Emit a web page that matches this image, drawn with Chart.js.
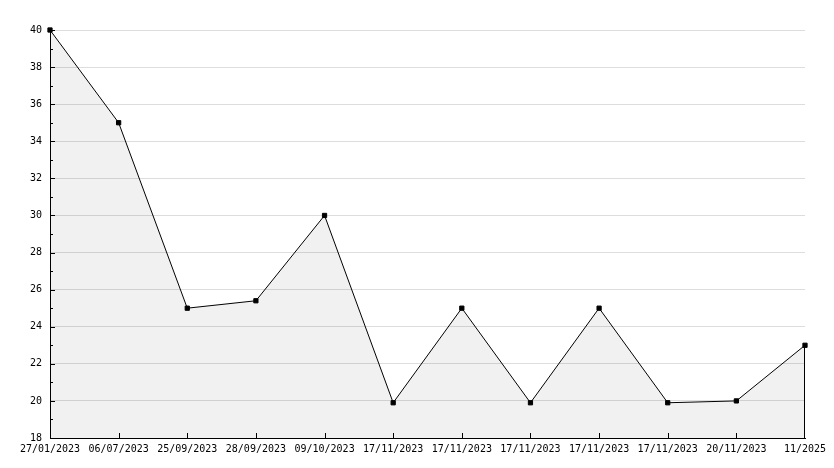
<!DOCTYPE html>
<html>
<head>
<meta charset="utf-8">
<script src="https://cdn.jsdelivr.net/npm/chart.js@4"></script>
<style>
  body { margin: 0; background: #fff; }
</style>
</head>
<body>
<canvas id="chart" width="834" height="468"></canvas>
<script>
const dates = ["27/01/2023", "06/07/2023", "25/09/2023", "28/09/2023", "09/10/2023",
  "17/11/2023", "17/11/2023", "17/11/2023", "17/11/2023", "17/11/2023", "20/11/2023", "11/2025"];
const values = [40, 35, 25, 25.4, 30, 19.9, 25, 19.9, 25, 19.9, 20, 23];
const yMin = 18;
const yMax = 40;

// jpgraph style ticks drawn inside the plot
const innerTicks = {
  id: "innerTicks",
  afterDatasetsDraw(chart) {
    const { ctx, chartArea, scales } = chart;
    ctx.save();
    ctx.strokeStyle = "#000";
    ctx.lineWidth = 1;
    ctx.beginPath();
    for (let v = yMin; v <= yMax; v++) {
      const y = Math.round(scales.y.getPixelForValue(v)) + 0.5;
      const len = v % 2 === 0 ? 5 : 3;
      ctx.moveTo(chartArea.left, y);
      ctx.lineTo(chartArea.left + len, y);
    }
    for (let i = 1; i < dates.length - 1; i++) {
      const x = Math.round(scales.x.getPixelForValue(i)) + 0.5;
      ctx.moveTo(x, chartArea.bottom);
      ctx.lineTo(x, chartArea.bottom - 5);
    }
    // right edge of filled area
    const last = dates.length - 1;
    const xr = Math.round(scales.x.getPixelForValue(last)) - 0.5;
    ctx.moveTo(xr, scales.y.getPixelForValue(values[last]));
    ctx.lineTo(xr, chartArea.bottom);
    ctx.stroke();
    ctx.restore();
  }
};

new Chart(document.getElementById("chart"), {
  type: "line",
  data: {
    labels: dates,
    datasets: [{
      data: values,
      borderColor: "#000",
      borderWidth: 1,
      backgroundColor: "rgba(0,0,0,0.055)",
      fill: "origin",
      tension: 0,
      pointRadius: 3,
      pointStyle: "rect",
      pointBackgroundColor: "#000",
      pointBorderColor: "#000",
      pointBorderWidth: 1,
      clip: false
    }]
  },
  options: {
    responsive: false,
    animation: false,
    layout: { padding: { left: 0, right: 29, top: 30, bottom: 0 } },
    plugins: { legend: { display: false }, tooltip: { enabled: false } },
    scales: {
      x: {
        offset: false,
        grid: { display: false, drawTicks: false },
        border: { display: true, color: "#000", width: 1 },
        ticks: {
          color: "#000",
          font: { family: "DejaVu Sans Mono", size: 10 },
          padding: 5,
          maxRotation: 0,
          autoSkip: false
        },
        afterFit(scale) { scale.height = 30; }
      },
      y: {
        min: yMin,
        max: yMax,
        grid: {
          drawTicks: false,
          color: (c) => (c.tick && c.tick.value === yMin ? "rgba(0,0,0,0)" : "#dddddd")
        },
        border: { display: true, color: "#000", width: 1 },
        ticks: {
          stepSize: 2,
          color: "#000",
          font: { family: "DejaVu Sans Mono", size: 10 },
          padding: 8
        },
        afterFit(scale) { scale.width = 50; }
      }
    }
  },
  plugins: [innerTicks]
});
</script>
</body>
</html>
